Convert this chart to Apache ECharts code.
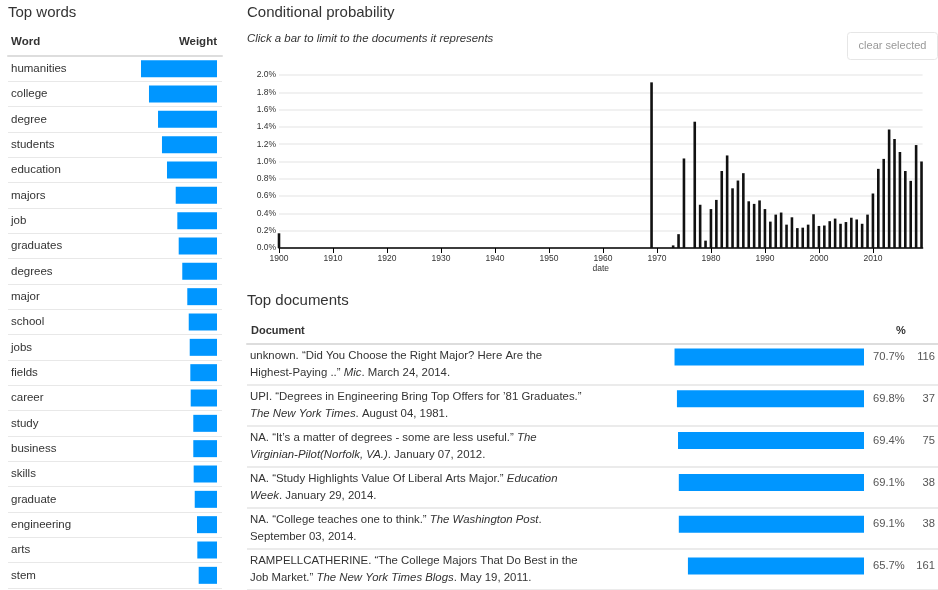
<!DOCTYPE html>
<html><head><meta charset="utf-8">
<script src="https://cdn.jsdelivr.net/npm/echarts@6/dist/echarts.min.js"></script>
<style>html,body{margin:0;padding:0;background:#fff}#c{width:938px;height:590px}</style>
</head><body><div id="c"></div>
<script>
// ---- Top words ----
const words = ['humanities','college','degree','students','education','majors','job','graduates','degrees','major','school','jobs','fields','career','study','business','skills','graduate','engineering','arts','stem'];
const wordWeights = [1.000,0.895,0.776,0.724,0.658,0.543,0.522,0.504,0.457,0.391,0.372,0.359,0.351,0.346,0.312,0.312,0.307,0.293,0.263,0.259,0.241];

// ---- Conditional probability (percent) ----
const years = [1900,1969,1973,1974,1975,1977,1978,1979,1980,1981,1982,1983,1984,1985,1986,1987,1988,1989,1990,1991,1992,1993,1994,1995,1996,1997,1998,1999,2000,2001,2002,2003,2004,2005,2006,2007,2008,2009,2010,2011,2012,2013,2014,2015,2016,2017,2018,2019];
const probs = [0.17,1.915,0.03,0.16,1.035,1.46,0.50,0.085,0.45,0.556,0.89,1.07,0.69,0.78,0.865,0.54,0.51,0.55,0.45,0.305,0.386,0.41,0.27,0.355,0.23,0.235,0.27,0.39,0.255,0.26,0.31,0.34,0.28,0.30,0.35,0.33,0.28,0.386,0.63,0.915,1.03,1.37,1.26,1.11,0.89,0.776,1.19,1.00];

// ---- Top documents ----
const docLine1 = [
  'unknown. “Did You Choose the Right Major? Here Are the',
  'UPI. “Degrees in Engineering Bring Top Offers for ’81 Graduates.”',
  'NA. “It’s a matter of degrees - some are less useful.” {i|The}',
  'NA. “Study Highlights Value Of Liberal Arts Major.” {i|Education}',
  'NA. “College teaches one to think.” {i|The Washington Post}.',
  'RAMPELLCATHERINE. “The College Majors That Do Best in the'
];
const docLine2 = [
  'Highest-Paying ..” {i|Mic}. March 24, 2014.',
  '{i|The New York Times}. August 04, 1981.',
  '{i|Virginian-Pilot(Norfolk, VA.)}. January 07, 2012.',
  '{i|Week}. January 29, 2014.',
  'September 03, 2014.',
  'Job Market.” {i|The New York Times Blogs}. May 19, 2011.'
];
const docPct = [70.7,69.8,69.4,69.1,69.1,65.7];
const docCount = [116,37,75,38,38,161];
const docIds = docPct.map((_, i) => 'd' + i);

const FONT = '"Liberation Sans", Arial, Helvetica, sans-serif';
const BLUE = '#0096ff';
const chart = echarts.init(document.getElementById('c'), null, {renderer: 'canvas'});

const hidden = {show: false};
const option = {
  animation: false,
  backgroundColor: '#fff',
  textStyle: {fontFamily: FONT},
  grid: [
    {left: 8, top: 56, width: 214, height: 532},      // words table
    {left: 141, top: 56, width: 76, height: 532},     // words bars
    {left: 279, top: 75, width: 643.6, height: 173},  // conditional probability
    {left: 247, top: 344, width: 691, height: 251},   // documents table
    {left: 596, top: 336, width: 268, height: 251}    // documents bars
  ],
  xAxis: [
    {gridIndex: 0, type: 'value', min: 0, max: 1, position: 'top',
     axisLine: {show: true, lineStyle: {color: '#dddddd', width: 2}},
     axisTick: hidden, axisLabel: hidden, splitLine: hidden},
    {gridIndex: 1, type: 'value', min: 0, max: 1, inverse: true,
     axisLine: hidden, axisTick: hidden, axisLabel: hidden, splitLine: hidden},
    {gridIndex: 2, type: 'value', min: 1900, max: 2019.2, interval: 10,
     name: 'date', nameLocation: 'middle', nameGap: 12,
     nameTextStyle: {fontSize: 8.5, color: '#333', fontFamily: FONT},
     axisLine: {show: true, lineStyle: {color: '#000', width: 1.5}},
     axisTick: {show: true, length: 5, lineStyle: {color: '#000'}},
     axisLabel: {fontSize: 8.5, color: '#333', margin: 6, showMaxLabel: false,
                 formatter: v => String(v), fontFamily: FONT},
     splitLine: hidden},
    {gridIndex: 3, type: 'value', min: 0, max: 1, position: 'top',
     axisLine: {show: true, lineStyle: {color: '#dddddd', width: 2}},
     axisTick: hidden, axisLabel: hidden, splitLine: hidden},
    {gridIndex: 4, type: 'value', min: 0, max: 100, inverse: true,
     axisLine: hidden, axisTick: hidden, axisLabel: hidden, splitLine: hidden}
  ],
  yAxis: [
    {gridIndex: 0, type: 'category', data: words, inverse: true,
     axisLine: hidden, axisTick: hidden,
     axisLabel: {interval: 0, align: 'left', margin: -3, fontSize: 11.5, color: '#333', fontFamily: FONT},
     splitLine: {show: true, lineStyle: {color: '#e8e8e8', width: 1}}},
    {gridIndex: 1, type: 'category', data: words, inverse: true,
     axisLine: hidden, axisTick: hidden, axisLabel: hidden, splitLine: hidden},
    {gridIndex: 2, type: 'value', min: 0, max: 2, interval: 0.2,
     axisLine: hidden, axisTick: hidden,
     axisLabel: {fontSize: 8.5, color: '#333', margin: 3, formatter: v => v.toFixed(1) + '%', fontFamily: FONT},
     splitLine: {show: true, lineStyle: {color: '#ececec', width: 1.5}}},
    {gridIndex: 3, type: 'category', data: docIds, inverse: true,
     axisLine: hidden, axisTick: hidden,
     axisLabel: {interval: 0, align: 'left', margin: -3, fontSize: 11.4, color: '#333', lineHeight: 17,
                 fontFamily: FONT,
                 formatter: (v, i) => docLine1[i] + '\n' + docLine2[i],
                 rich: {i: {fontStyle: 'italic', fontSize: 11.4, color: '#333', lineHeight: 17, fontFamily: FONT}}},
     splitLine: {show: true, lineStyle: {color: '#e5e5e5', width: 1.5}}},
    {gridIndex: 4, type: 'category', data: docIds, inverse: true,
     axisLine: hidden, axisTick: hidden, axisLabel: hidden, splitLine: hidden}
  ],
  series: [
    {type: 'bar', xAxisIndex: 1, yAxisIndex: 1, data: wordWeights, barWidth: 17,
     itemStyle: {color: BLUE}, silent: true},
    {type: 'bar', xAxisIndex: 2, yAxisIndex: 2, barWidth: 2.6,
     data: years.map((y, i) => [y, probs[i]]),
     itemStyle: {color: '#111'}},
    {type: 'bar', xAxisIndex: 4, yAxisIndex: 4, data: docPct, barWidth: 17,
     itemStyle: {color: BLUE},
     label: {show: true, position: 'right', distance: 9,
             formatter: p => '{p|' + p.value.toFixed(1) + '%}{n|' + docCount[p.dataIndex] + '}',
             rich: {p: {width: 37, fontSize: 11.2, color: '#555', fontFamily: FONT},
                    n: {width: 25, align: 'right', fontSize: 11.2, color: '#555', fontFamily: FONT}}}}
  ],
  graphic: [
    {type: 'text', left: 8, top: 5, style: {text: 'Top words', fontSize: 15, fill: '#333', fontFamily: FONT}},
    {type: 'text', left: 11, top: 36, style: {text: 'Word', fontSize: 11.5, fontWeight: 'bold', fill: '#333', fontFamily: FONT}},
    {type: 'text', right: 721, top: 36, style: {text: 'Weight', fontSize: 11.5, fontWeight: 'bold', fill: '#333', fontFamily: FONT}},
    {type: 'text', left: 247, top: 5, style: {text: 'Conditional probability', fontSize: 15, fill: '#333', fontFamily: FONT}},
    {type: 'text', left: 247, top: 33, style: {text: 'Click a bar to limit to the documents it represents', fontSize: 11.4, fontStyle: 'italic', fill: '#333', fontFamily: FONT}},
    {type: 'group', left: 847, top: 32, children: [
      {type: 'rect', shape: {x: 0, y: 0, width: 90, height: 27, r: 3}, style: {fill: '#fff', stroke: '#e6e6e6', lineWidth: 1}},
      {type: 'text', x: 45, y: 13.5, style: {text: 'clear selected', fontSize: 11, fill: '#999', align: 'center', verticalAlign: 'middle', fontFamily: FONT}}
    ]},
    {type: 'text', left: 247, top: 293, style: {text: 'Top documents', fontSize: 15, fill: '#333', fontFamily: FONT}},
    {type: 'text', left: 251, top: 325, style: {text: 'Document', fontSize: 11, fontWeight: 'bold', fill: '#333', fontFamily: FONT}},
    {type: 'text', left: 896, top: 325, style: {text: '%', fontSize: 11, fontWeight: 'bold', fill: '#333', fontFamily: FONT}}
  ]
};
chart.setOption(option);
</script>
</body></html>
